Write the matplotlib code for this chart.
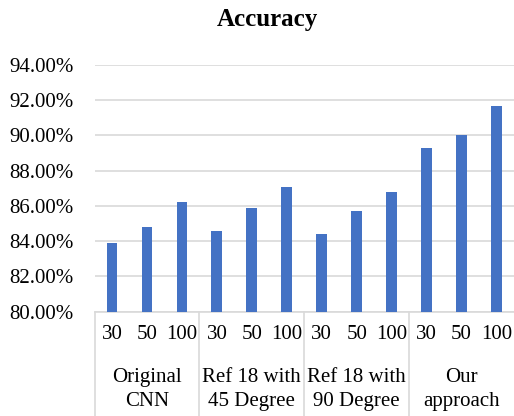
import matplotlib.pyplot as plt

groups = ['Original\nCNN', 'Ref 18 with\n45 Degree', 'Ref 18 with\n90 Degree', 'Our\napproach']
sizes = ['30', '50', '100']
accuracy = [83.9, 84.8, 86.2,
            84.6, 85.9, 87.1,
            84.4, 85.7, 86.8,
            89.3, 90.05, 91.7]
yticks = [80, 82, 84, 86, 88, 90, 92, 94]

plt.rcParams['font.family'] = ['Liberation Serif', 'DejaVu Serif']

fig = plt.figure(figsize=(5.14, 4.16), dpi=100)
ax = fig.add_axes([0.184, 0.2507, 0.816, 0.5931])

x = list(range(len(accuracy)))
ax.bar(x, accuracy, width=0.31, color='#4472C4', zorder=3)
ax.set_xlim(-0.5, len(accuracy) - 0.5)
ax.set_ylim(80, 94)
ax.set_yticks(yticks)
ax.set_yticklabels(['%.2f%%' % v for v in yticks], fontsize=15)
ax.tick_params(axis='y', length=0, pad=15)
ax.tick_params(axis='x', length=0, labelbottom=False)
ax.grid(axis='y', color='#d9d9d9', linewidth=1.2, zorder=0)
for s in ['top', 'right', 'left']:
    ax.spines[s].set_visible(False)
ax.spines['bottom'].set_color('#d9d9d9')
ax.spines['bottom'].set_linewidth(1.2)

trans = ax.get_xaxis_transform()
for i, v in enumerate(accuracy):
    ax.text(i, -0.094, sizes[i % 3], transform=trans, ha='center', va='center', fontsize=15)
for g, name in enumerate(groups):
    ax.text(3 * g + 1, -0.315, name, transform=trans, ha='center', va='center',
            fontsize=15, linespacing=1.3)
for b in [-0.5, 2.5, 5.5, 8.5]:
    ax.plot([b, b], [0, -0.45], transform=trans, color='#d9d9d9', linewidth=1.2, clip_on=False)

fig.text(0.52, 0.953, 'Accuracy', ha='center', va='center', fontsize=18, fontweight='bold')

plt.savefig('out.png')
